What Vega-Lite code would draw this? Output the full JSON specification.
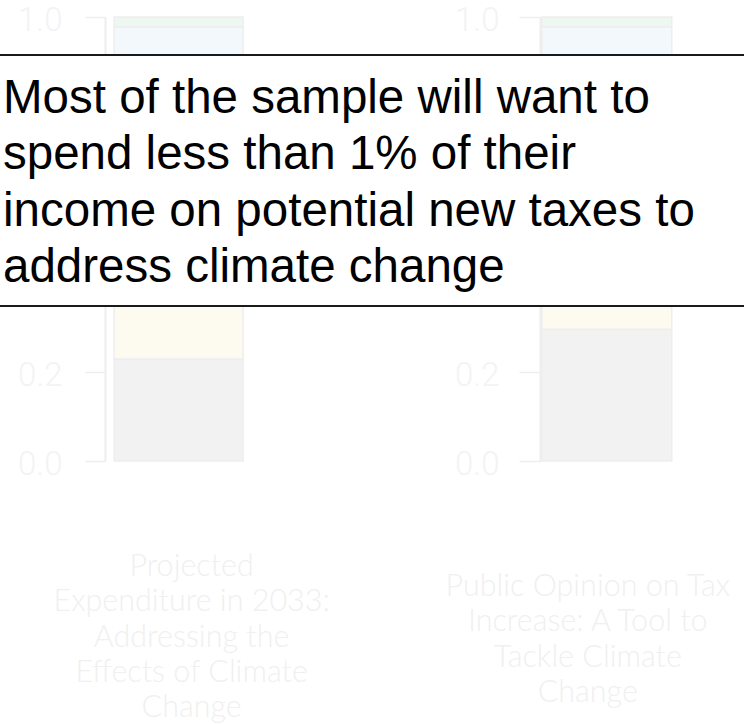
{
  "$schema": "https://vega.github.io/schema/vega-lite/v6.json",
  "width": 744,
  "height": 444,
  "autosize": {"type": "none"},
  "padding": {"left": 0, "right": 0, "top": 17, "bottom": 263},
  "background": "white",
  "config": {"view": {"stroke": null}},
  "datasets": {
    "bars": [
      {"question": "Projected Expenditure in 2033", "pos": 1, "segment": "None", "start": 0, "end": 0.23},
      {"question": "Projected Expenditure in 2033", "pos": 1, "segment": "Less than 1%", "start": 0.23, "end": 0.55},
      {"question": "Projected Expenditure in 2033", "pos": 1, "segment": "1% to 5%", "start": 0.55, "end": 0.978},
      {"question": "Projected Expenditure in 2033", "pos": 1, "segment": "More than 5%", "start": 0.978, "end": 1.0},
      {"question": "Public Opinion on Tax Increase", "pos": 2, "segment": "None", "start": 0, "end": 0.297},
      {"question": "Public Opinion on Tax Increase", "pos": 2, "segment": "Less than 1%", "start": 0.297, "end": 0.62},
      {"question": "Public Opinion on Tax Increase", "pos": 2, "segment": "1% to 5%", "start": 0.62, "end": 0.978},
      {"question": "Public Opinion on Tax Increase", "pos": 2, "segment": "More than 5%", "start": 0.978, "end": 1.0}
    ],
    "labels": [
      {"pos": 1, "label": "Projected\nExpenditure in 2033:\nAddressing the\nEffects of Climate\nChange"},
      {"pos": 2, "label": "Public Opinion on Tax\nIncrease: A Tool to\nTackle Climate\nChange"}
    ],
    "note": [
      {"text": "Most of the sample will want to\nspend less than 1% of their\nincome on potential new taxes to\naddress climate change"}
    ]
  },
  "layer": [
    {
      "data": {"name": "bars"},
      "transform": [{"filter": "datum.pos == 1"}],
      "mark": {"type": "bar", "orient": "vertical", "width": 129, "stroke": "#eeeeee", "strokeWidth": 1.5},
      "encoding": {
        "x": {"field": "pos", "type": "quantitative", "scale": {"domain": [0.5945, 2.3088], "nice": false, "zero": false}, "axis": null},
        "y": {"field": "start", "type": "quantitative", "scale": {"domain": [0, 1], "nice": false},
          "axis": {"orient": "left", "offset": -105, "values": [0, 0.2, 0.4, 0.6, 0.8, 1], "format": ".1f", "grid": false, "title": null,
            "labelFont": "Roboto", "labelFontSize": 33, "labelFontWeight": 300, "labelColor": "#f3f3f6", "labelPadding": 23, "labelFlush": false, "labelOffset": 3,
            "tickSize": 20, "tickColor": "#eeeeee", "tickWidth": 1.5, "domainColor": "#eeeeee", "domainWidth": 2}},
        "y2": {"field": "end"},
        "color": {"field": "segment", "type": "nominal",
          "scale": {"domain": ["None", "Less than 1%", "1% to 5%", "More than 5%"], "range": ["#f2f2f2", "#fdfaf0", "#f3f8fc", "#eef7f0"]},
          "legend": null}
      }
    },
    {
      "data": {"name": "bars"},
      "transform": [{"filter": "datum.pos == 2"}],
      "mark": {"type": "bar", "orient": "vertical", "width": 130, "stroke": "#eeeeee", "strokeWidth": 1.5},
      "encoding": {
        "x": {"field": "pos", "type": "quantitative", "axis": null},
        "y": {"field": "start", "type": "quantitative", "scale": {"domain": [0, 1], "nice": false},
          "axis": {"orient": "left", "offset": -540, "values": [0, 0.2, 0.4, 0.6, 0.8, 1], "format": ".1f", "grid": false, "title": null,
            "labelFont": "Roboto", "labelFontSize": 33, "labelFontWeight": 300, "labelColor": "#f3f3f6", "labelPadding": 20, "labelFlush": false, "labelOffset": 3,
            "tickSize": 21, "tickColor": "#eeeeee", "tickWidth": 1.5, "domainColor": "#eeeeee", "domainWidth": 2}},
        "y2": {"field": "end"},
        "color": {"field": "segment", "type": "nominal", "legend": null}
      }
    },
    {
      "data": {"values": [{}]},
      "mark": {"type": "rect", "color": "white"},
      "encoding": {
        "x": {"datum": 0, "type": "quantitative", "axis": null},
        "x2": {"datum": 3},
        "y": {"datum": 0.3491, "type": "quantitative", "scale": {"domain": [0, 1], "nice": false}, "axis": null},
        "y2": {"datum": 0.9144}
      }
    },
    {
      "data": {"values": [{"v": 0.3491}, {"v": 0.9144}]},
      "mark": {"type": "rule", "color": "#1a1a1a", "strokeWidth": 2.2},
      "encoding": {
        "y": {"field": "v", "type": "quantitative", "scale": {"domain": [0, 1], "nice": false}, "axis": null}
      }
    },
    {
      "data": {"name": "note"},
      "mark": {"type": "text", "align": "left", "baseline": "alphabetic", "lineBreak": "\n", "font": "Liberation Sans", "fontSize": 47.5, "lineHeight": 56.3, "color": "#000000", "dx": -2},
      "encoding": {
        "x": {"datum": 0.5945, "type": "quantitative", "axis": null},
        "y": {"datum": 0.7838, "type": "quantitative", "scale": {"domain": [0, 1], "nice": false}, "axis": null},
        "text": {"field": "text"}
      }
    },
    {
      "data": {"name": "labels"},
      "transform": [{"filter": "datum.pos == 1"}],
      "mark": {"type": "text", "align": "center", "baseline": "middle", "lineBreak": "\n", "font": "Lato", "fontWeight": 300, "fontSize": 30.5, "lineHeight": 35.3, "color": "#f0f0f0", "dx": 13},
      "encoding": {
        "x": {"field": "pos", "type": "quantitative", "axis": null},
        "y": {"datum": -0.2387, "type": "quantitative", "scale": {"domain": [0, 1], "nice": false}, "axis": null},
        "text": {"field": "label"}
      }
    },
    {
      "data": {"name": "labels"},
      "transform": [{"filter": "datum.pos == 2"}],
      "mark": {"type": "text", "align": "center", "baseline": "middle", "lineBreak": "\n", "font": "Lato", "fontWeight": 300, "fontSize": 30.5, "lineHeight": 35.3, "color": "#f0f0f0", "dx": -19},
      "encoding": {
        "x": {"field": "pos", "type": "quantitative", "axis": null},
        "y": {"datum": -0.2838, "type": "quantitative", "scale": {"domain": [0, 1], "nice": false}, "axis": null},
        "text": {"field": "label"}
      }
    }
  ],
  "resolve": {"scale": {"y": "independent"}}
}
